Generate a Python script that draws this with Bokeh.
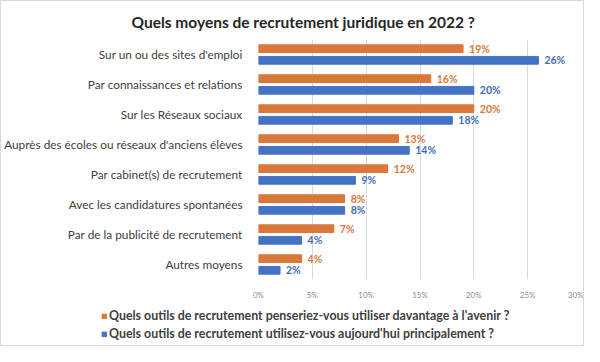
from bokeh.plotting import figure
from bokeh.layouts import column
from bokeh.models import ColumnDataSource, FixedTicker, Legend, LegendItem, Range1d, FactorRange
from bokeh.transform import dodge
from bokeh.core.properties import value
from bokeh.embed import file_html
from bokeh.resources import INLINE

categories = [
    "Sur un ou des sites d'emploi",
    "Par connaissances et relations",
    "Sur les Réseaux sociaux",
    "Auprès des écoles ou réseaux d'anciens élèves",
    "Par cabinet(s) de recrutement",
    "Avec les candidatures spontanées",
    "Par de la publicité de recrutement",
    "Autres moyens",
]
avenir = [19, 16, 20, 13, 12, 8, 7, 4]
actuel = [26, 20, 18, 14, 9, 8, 4, 2]
x_ticks = [0, 5, 10, 15, 20, 25, 30]
series_names = [
    "Quels outils de recrutement penseriez-vous utiliser davantage à l'avenir ?",
    "Quels outils de recrutement utilisez-vous aujourd'hui principalement ?",
]

ORANGE = "#D9783A"
BLUE = "#4472C4"
FONT = "Lato"

src = ColumnDataSource(dict(
    cat=categories,
    avenir=avenir,
    actuel=actuel,
    avenir_lbl=[f"{v}%" for v in avenir],
    actuel_lbl=[f"{v}%" for v in actuel],
))

p = figure(
    width=582, height=301,
    y_range=FactorRange(factors=list(reversed(categories))),
    x_range=Range1d(0, 30),
    output_backend="svg", toolbar_location=None,
    min_border_left=257, min_border_right=2, min_border_top=35, min_border_bottom=18,
)
p.frame_align = False
p.outline_line_color = None
p.background_fill_color = "white"
p.border_fill_color = "white"

OFF = 0.194
BH = 0.258
p.hbar(y=dodge("cat", OFF, range=p.y_range), right="avenir", left=0, height=BH,
       source=src, color=ORANGE)
p.hbar(y=dodge("cat", -OFF, range=p.y_range), right="actuel", left=0, height=BH,
       source=src, color=BLUE)

p.text(x="avenir", y=dodge("cat", OFF, range=p.y_range), text="avenir_lbl", source=src,
       x_offset=6, text_baseline="middle", text_font=value(FONT), text_font_style="bold",
       text_font_size="10.5px", text_color=ORANGE)
p.text(x="actuel", y=dodge("cat", -OFF, range=p.y_range), text="actuel_lbl", source=src,
       x_offset=6, text_baseline="middle", text_font=value(FONT), text_font_style="bold",
       text_font_size="10.5px", text_color="#3F6CB8")

p.xaxis.ticker = FixedTicker(ticks=x_ticks)
p.xaxis.major_label_overrides = {t: f"{t}%" for t in x_ticks}
p.xaxis.axis_line_color = None
p.xaxis.major_tick_line_color = None
p.xaxis.minor_tick_line_color = None
p.xaxis.major_label_text_font = FONT
p.xaxis.major_label_text_font_size = "8px"
p.xaxis.major_label_text_color = "#8c8c8c"
p.xaxis.major_label_standoff = 4

p.yaxis.axis_line_color = None
p.yaxis.major_tick_line_color = None
p.yaxis.minor_tick_line_color = None
p.yaxis.major_label_text_font = FONT
p.yaxis.major_label_text_font_size = "11.8px"
p.yaxis.major_label_text_color = "#404040"
p.yaxis.major_label_standoff = 10

p.xgrid.grid_line_color = "#d9d9d9"
p.ygrid.grid_line_color = None

p.title.text = "Quels moyens de recrutement juridique en 2022 ?"
p.title.align = "left"
p.title.offset = -127
p.title.text_font = FONT
p.title.text_font_size = "15.5px"
p.title.text_font_style = "bold"
p.title.text_color = "#262626"
p.title.standoff = 18

# legend strip below the chart
lg = figure(width=582, height=43, output_backend="svg", toolbar_location=None,
            x_range=Range1d(0, 1), y_range=Range1d(0, 1),
            min_border_left=0, min_border_right=0, min_border_top=0, min_border_bottom=0)
lg.frame_align = False
lg.axis.visible = False
lg.grid.visible = False
lg.outline_line_color = None
lg.border_fill_color = "white"
lg.background_fill_color = "white"
# off-screen swatch glyphs, only used by the legend
off_src = ColumnDataSource(dict(y=[-10], left=[-10], right=[-9]))
g1 = lg.hbar(y="y", left="left", right="right", height=0.1, source=off_src, color=ORANGE)
g2 = lg.hbar(y="y", left="left", right="right", height=0.1, source=off_src, color=BLUE)

legend = Legend(
    items=[LegendItem(label=series_names[0], renderers=[g1]),
           LegendItem(label=series_names[1], renderers=[g2])],
    location=(100, 4),
    orientation="vertical",
    padding=0, margin=0, spacing=3,
    glyph_width=6, glyph_height=6, label_height=15, label_standoff=2,
    label_text_font=FONT, label_text_font_size="12.4px", label_text_font_style="bold",
    label_text_color="#404040",
    background_fill_alpha=0, border_line_color=None,
)
lg.add_layout(legend, "center")

layout = column(p, lg, spacing=0, styles={"border": "1px solid #d9d9d9"})
open("out.html", "w").write(file_html(layout, INLINE))
